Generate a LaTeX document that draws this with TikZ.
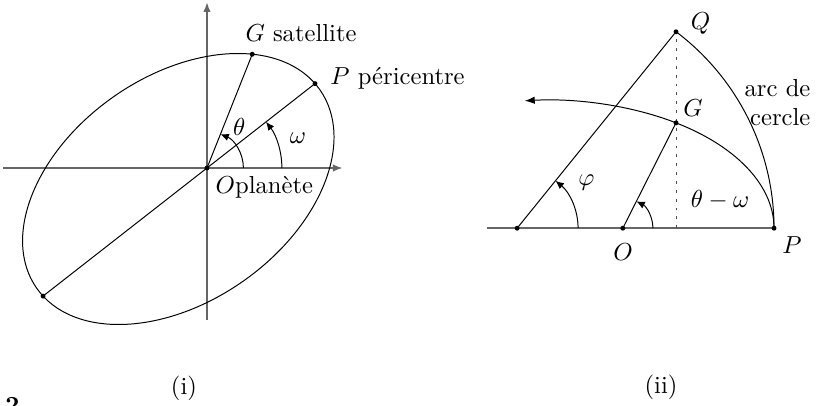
\documentclass[tikz,border=0pt]{standalone}
\usepackage{amsmath,amssymb}
\usepackage{fontspec}
\usetikzlibrary{arrows.meta,calc}

\begin{document}
\begin{tikzpicture}[
  axis/.style={draw=black!60, line width=0.7pt},
  axisarrow/.style={axis, -{Latex[length=4pt,width=3pt]}},
  angarc/.style={-{Latex[length=3.4pt,width=3pt]}}
]
\useasboundingbox (-2.957,-3.386) rectangle (8.714,2.4);
% (i) orbit around the planet
\coordinate (O) at (0,0);
\coordinate (P) at (38:1.958);
\coordinate (B) at (218:2.972);
\coordinate (G) at (68.3:1.749);
\coordinate (xl) at (-2.91,0);
\coordinate (xr) at (1.94,0);
\coordinate (yb) at (0,-2.17);
\coordinate (yt) at (0,2.37);
\draw[axisarrow] (xl) -- (xr);
\draw[axisarrow] (yb) -- (yt);
\draw[rotate around={35:(-0.41,-0.30)}] (-0.41,-0.30) ellipse (2.47 and 1.61);
\draw (B) -- (P);
\draw (O) -- (G);
% angles theta and omega
\draw[angarc] (0.52,0) arc (0:68.3:0.52);
\draw[angarc] (1.07,0) arc (0:38:1.07);
\foreach \p in {O,P,G,B} {
  \fill (\p) circle (1pt);
}
\node[anchor=north west] (Olab) at (O) {$O$planète};
\node[anchor=base west] (Glab) at (0.426,1.814) {$G$ satellite};
\node[anchor=base west] (Plab) at (1.640,1.186) {$P$ péricentre};
\node (thlab) at (0.46,0.59) {$\theta$};
\node (omlab) at (1.30,0.43) {$\omega$};
\node (cap1) at (-0.329,-3.143) {(i)};
% (ii) circle and ellipse arcs
\coordinate (A2) at (4.00,-0.86);
\coordinate (C2) at (4.43,-0.86);
\coordinate (O2) at (5.94,-0.86);
\coordinate (H2) at (6.70,-0.86);
\coordinate (P2) at (8.10,-0.86);
\coordinate (Q) at (6.70,1.946);
\coordinate (G2) at (6.70,0.645);
\draw[axis] (A2) -- (P2);
\draw[black!70, dash pattern=on 1.2pt off 2.4pt] (H2) -- (Q);
\draw (P2) arc[start angle=0, end angle=53, radius=3.514];
\draw[-{Latex[length=4pt,width=3pt]}] (P2) arc[start angle=0, end angle=95.6, x radius=3.243, y radius=1.829];
\draw (C2) -- (Q);
\draw (O2) -- (G2);
% angles phi and theta-omega
\draw[angarc] ($(C2)+(0.871,0)$) arc (0:51:0.871);
\draw[angarc] ($(O2)+(0.43,0)$) arc (0:63.2:0.43);
\foreach \p in {C2,O2,P2,Q,G2} {
  \fill (\p) circle (1pt);
}
\node (Qlab) at (7.05,2.071) {$Q$};
\node (Glab2) at (6.943,0.849) {$G$};
\node[align=right] (arclab) at (8.15,0.936) {arc de\\cercle};
\node (philab) at (5.421,-0.207) {$\varphi$};
\node (twlab) at (7.329,-0.457) {$\theta-\omega$};
\node (Olab2) at (5.943,-1.2) {$O$};
\node (Plab2) at (8.357,-1.1) {$P$};
\node (cap2) at (6.486,-3.129) {(ii)};
\node[anchor=base west, inner sep=0pt, font=\bfseries] (num) at (-2.886,-3.514) {2};
\end{tikzpicture}
\end{document}
